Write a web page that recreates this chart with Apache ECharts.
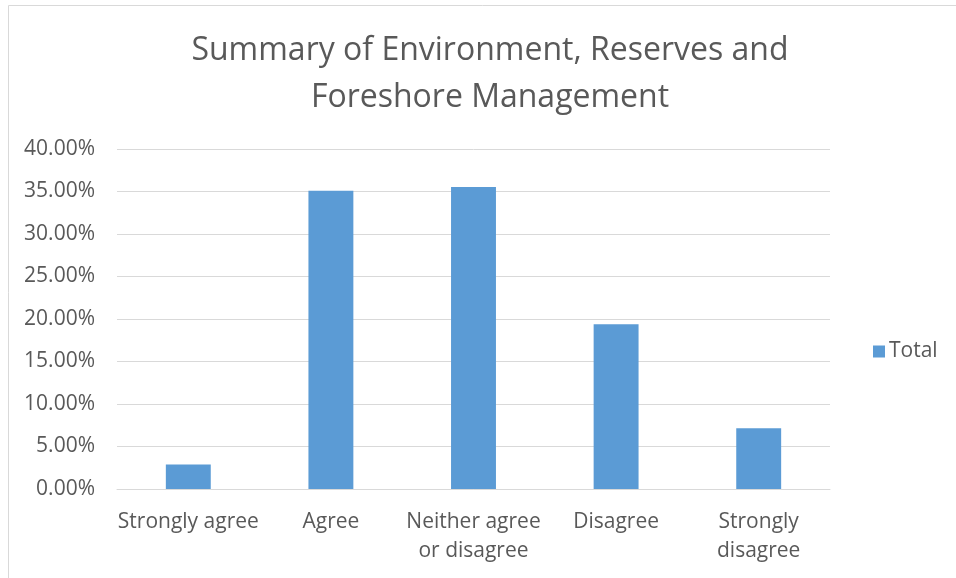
<!DOCTYPE html>
<html>
<head>
<meta charset="utf-8">
<style>
  html, body { margin: 0; padding: 0; background: #ffffff; }
  #chart { width: 956px; height: 578px; }
</style>
<script src="https://cdn.jsdelivr.net/npm/echarts@6/dist/echarts.min.js"></script>
</head>
<body>
<div id="chart"></div>
<script>
// Survey responses: share of respondents per answer
const categories = ['Strongly agree', 'Agree', 'Neither agree\nor disagree', 'Disagree', 'Strongly\ndisagree'];
const totals = [0.0287, 0.3510, 0.3553, 0.1938, 0.0714];
const seriesName = 'Total';
const titleText = 'Summary of Environment, Reserves and\nForeshore Management';

const textColor = '#595959';
const gridColor = '#d9d9d9';
const barColor = '#5b9bd5';
const fontFamily = '"Open Sans", "Liberation Sans", sans-serif';

const chart = echarts.init(document.getElementById('chart'));
chart.setOption({
  animation: false,
  textStyle: { fontFamily: fontFamily },
  graphic: [{
    type: 'rect',
    shape: { x: 8.5, y: 5.5, width: 960, height: 580 },
    style: { fill: 'none', stroke: '#d9d9d9', lineWidth: 1 },
    silent: true
  }],
  title: {
    text: titleText,
    left: 485,
    textAlign: 'center',
    top: 22,
    textStyle: {
      color: textColor,
      fontSize: 32,
      fontWeight: 'normal',
      fontFamily: fontFamily,
      lineHeight: 47
    }
  },
  legend: {
    data: [seriesName],
    left: 868,
    top: 336,
    icon: 'rect',
    itemWidth: 12,
    itemHeight: 12,
    itemGap: 4,
    textStyle: { color: textColor, fontSize: 21, fontFamily: fontFamily, padding: [0, 0, 0, -1] }
  },
  grid: { left: 117, right: 126, top: 149, bottom: 89, containLabel: false },
  xAxis: {
    type: 'category',
    data: categories,
    axisLine: { lineStyle: { color: gridColor, width: 1 } },
    axisTick: { show: false },
    axisLabel: {
      color: textColor,
      fontSize: 21,
      lineHeight: 29,
      margin: 19,
      interval: 0
    }
  },
  yAxis: {
    type: 'value',
    min: 0,
    max: 0.4,
    interval: 0.05,
    axisLine: { show: false },
    axisTick: { show: false },
    splitLine: { lineStyle: { color: gridColor, width: 1 } },
    axisLabel: {
      color: textColor,
      fontSize: 21,
      margin: 22,
      formatter: v => (v * 100).toFixed(2) + '%'
    }
  },
  series: [{
    name: seriesName,
    type: 'bar',
    data: totals,
    barWidth: '31.5%',
    itemStyle: { color: barColor }
  }]
});
</script>
</body>
</html>
